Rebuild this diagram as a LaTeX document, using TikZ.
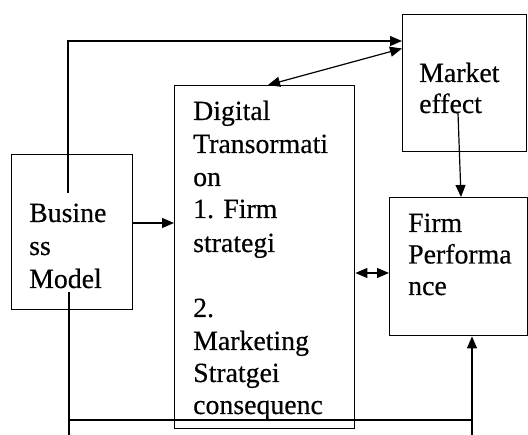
\documentclass[tikz,border=0pt]{standalone}
\usepackage{fontspec}
\setmainfont{Liberation Serif}
\newfontfamily\diagfont[FakeBold=0.4]{Liberation Serif}
\usetikzlibrary{arrows.meta}
\begin{document}
\begin{tikzpicture}[x=1pt,y=-1pt,
  box/.style={draw, line width=1.4pt, inner sep=0pt, anchor=north west},
  txt/.style={anchor=base west, inner sep=0pt, font=\diagfont\fontsize{27.8}{32.7}\selectfont},
  conn/.style={line width=1.2pt},
  tip/.tip={Triangle[length=12pt,width=10pt]},
  arr/.style={conn, -tip},
  darr/.style={conn, tip-tip}]
\useasboundingbox (0,0) rectangle (528,435);
% boxes
\node[box, minimum width=121pt, minimum height=155pt] (bm) at (11,154) {};
\node[box, minimum width=180pt, minimum height=343pt] (dt) at (174,85) {};
\node[box, minimum width=124pt, minimum height=137pt] (me) at (402,14) {};
\node[box, minimum width=138pt, minimum height=138pt] (fp) at (389,197) {};
% texts
\node[txt] (bm1) at (29,222) {Busine};
\node[txt] (bm2) at (29,255) {ss};
\node[txt] (bm3) at (29,288) {Model};
\node[txt] (dt1) at (193,120) {Digital};
\node[txt] (dt2) at (193,153) {Transormati};
\node[txt] (dt3) at (193,186) {on};
\node[txt] (dt4) at (193,218) {1. Firm};
\node[txt] (dt5) at (193,252) {strategi};
\node[txt] (dt6) at (193,317) {2.};
\node[txt] (dt7) at (193,350) {Marketing};
\node[txt] (dt8) at (193,382) {Stratgei};
\node[txt] (dt9) at (193,414) {consequenc};
\node[txt] (me1) at (419,82) {Market};
\node[txt] (me2) at (419,113) {effect};
\node[txt] (fp1) at (408,232) {Firm};
\node[txt] (fp2) at (408,263.5) {Performa};
\node[txt] (fp3) at (408,295) {nce};
% coordinates
\coordinate (bmtop) at (68,193);
\coordinate (bmbot) at (69,292);
\coordinate (bmend) at (69,435);
\coordinate (hl) at (69,420);
\coordinate (hr) at (472,420);
\coordinate (fpend) at (472,435);
\coordinate (mein) at (458,113);
% connectors
\draw[arr] (bmtop) |- ([yshift=-27pt]me.north west);
\draw[darr] ([xshift=94pt]dt.north west) -- ([yshift=-34.5pt]me.north west);
\draw[arr] (mein) -- ([xshift=72pt]fp.north west);
\draw[arr] ([yshift=-69pt]bm.north east) -- ([yshift=-138pt]dt.north west);
\draw[darr] ([yshift=-188pt]dt.north east) -- ([yshift=-76pt]fp.north west);
\draw[conn] (bmbot) -- (bmend);
\draw[conn] (hl) -- (hr);
\draw[arr] (fpend) -- ([xshift=83pt]fp.south west);
\end{tikzpicture}
\end{document}
